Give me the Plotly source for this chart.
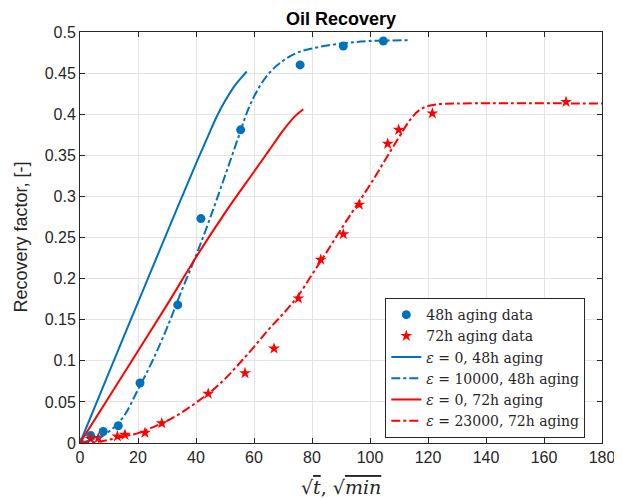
import plotly.graph_objects as go

# 48h aging data (sqrt(t), RF)
x48 = [0, 3.7, 8.0, 13.2, 20.7, 33.7, 41.7, 55.4, 75.9, 90.8, 104.6]
y48 = [0, 0.009, 0.014, 0.021, 0.073, 0.168, 0.273, 0.381, 0.460, 0.483, 0.489]

# 72h aging data
x72 = [0, 3.7, 6.3, 12.9, 15.5, 22.4, 28.2, 44.2, 56.9, 66.9, 75.3, 83.0, 90.8, 96.3, 106.1, 109.9, 121.5, 167.6]
y72 = [0, 0.005, 0.006, 0.008, 0.010, 0.0125, 0.024, 0.060, 0.085, 0.115, 0.176, 0.223, 0.254, 0.290, 0.364, 0.381, 0.401, 0.415]

# eps = 0, 48h model
xm48a = [0, 10, 20, 30, 40, 44, 47, 50, 53, 55.5, 57.5]
ym48a = [0, 0.086, 0.171, 0.256, 0.340, 0.372, 0.396, 0.416, 0.433, 0.444, 0.452]

# eps = 10000, 48h model
xm48b = [0, 5, 10, 15, 20, 25, 30, 35, 40, 45, 50, 55, 58, 61, 65, 70, 75, 80, 90, 100, 114]
ym48b = [0, 0.005, 0.014, 0.032, 0.065, 0.100, 0.140, 0.185, 0.228, 0.275, 0.325, 0.376, 0.406, 0.428, 0.449, 0.465, 0.475, 0.480, 0.486, 0.489, 0.490]

# eps = 0, 72h model
xm72a = [0, 10, 20, 30, 40, 50, 60, 65, 70, 74, 77]
ym72a = [0, 0.056, 0.112, 0.168, 0.226, 0.280, 0.330, 0.355, 0.380, 0.397, 0.406]

# eps = 23000, 72h model
xm72b = [0, 5, 10, 15, 20, 25, 30, 35, 40, 45, 50, 55, 60, 65, 70, 75, 80, 85, 90, 95, 100, 105, 110, 114, 117, 120, 123, 130, 180]
ym72b = [0, 0.001, 0.004, 0.008, 0.012, 0.019, 0.027, 0.037, 0.049, 0.062, 0.078, 0.097, 0.117, 0.138, 0.157, 0.178, 0.205, 0.232, 0.260, 0.287, 0.314, 0.343, 0.372, 0.394, 0.405, 0.410, 0.412, 0.413, 0.413]

BLUE = "#0072BD"
RED = "#FF0000"
DARK = "#262626"

fig = go.Figure()
fig.add_trace(go.Scatter(x=x48, y=y48, mode="markers", name="48h aging data",
                         marker=dict(color=BLUE, size=9, symbol="circle")))
fig.add_trace(go.Scatter(x=x72, y=y72, mode="markers", name="72h aging data",
                         marker=dict(color=RED, size=9, symbol="star")))
fig.add_trace(go.Scatter(x=xm48a, y=ym48a, mode="lines", name="<i>ε</i> = 0, 48h aging",
                         line=dict(color=BLUE, width=2, shape="spline")))
fig.add_trace(go.Scatter(x=xm48b, y=ym48b, mode="lines", name="<i>ε</i> = 10000, 48h aging",
                         line=dict(color=BLUE, width=2, dash="dashdot", shape="spline")))
fig.add_trace(go.Scatter(x=xm72a, y=ym72a, mode="lines", name="<i>ε</i> = 0, 72h aging",
                         line=dict(color=RED, width=2, shape="spline")))
fig.add_trace(go.Scatter(x=xm72b, y=ym72b, mode="lines", name="<i>ε</i> = 23000, 72h aging",
                         line=dict(color=RED, width=2, dash="dashdot", shape="spline")))

axis_common = dict(showline=True, linecolor=DARK, linewidth=1, mirror="ticks",
                   ticks="inside", ticklen=5, tickcolor=DARK, automargin=False,
                   showgrid=True, gridcolor="#e3e3e3", gridwidth=1, zeroline=False,
                   tickfont=dict(family="Liberation Sans, Arial", size=16, color=DARK))

fig.update_layout(
    width=622, height=499,
    margin=dict(l=72, r=28, t=24, b=64),
    paper_bgcolor="white", plot_bgcolor="white",
    xaxis=dict(range=[0, 180], dtick=20, tick0=0, **axis_common),
    yaxis=dict(range=[0, 0.5], dtick=0.05, tick0=0, **axis_common),
    legend=dict(x=0.968, y=0.012, xanchor="right", yanchor="bottom",
                bgcolor="white", bordercolor=DARK, borderwidth=1,
                font=dict(family="DejaVu Serif, Liberation Serif", size=14, color=DARK),
                tracegroupgap=0, itemwidth=30),
    showlegend=True,
    annotations=[
        dict(text="<b>Oil Recovery</b>", xref="paper", yref="paper", x=0.5, y=1.0,
             xanchor="center", yanchor="bottom", yshift=1, showarrow=False,
             font=dict(family="Liberation Sans, Arial", size=18, color="black")),
        dict(text="√<span style='text-decoration:overline'><i>t</i></span>, √<span style='text-decoration:overline'><i>min</i></span>",
             xref="paper", yref="paper", x=0.5, y=0,
             xanchor="center", yanchor="top", yshift=-31, showarrow=False,
             font=dict(family="DejaVu Serif, Liberation Serif", size=19, color=DARK)),
        dict(text="Recovery factor, [-]", xref="paper", yref="paper", x=0, y=0.5,
             xanchor="center", yanchor="middle", xshift=-60, textangle=-90, showarrow=False,
             font=dict(family="Liberation Sans, Arial", size=18, color=DARK)),
    ],
)

fig.write_html("out.html")
